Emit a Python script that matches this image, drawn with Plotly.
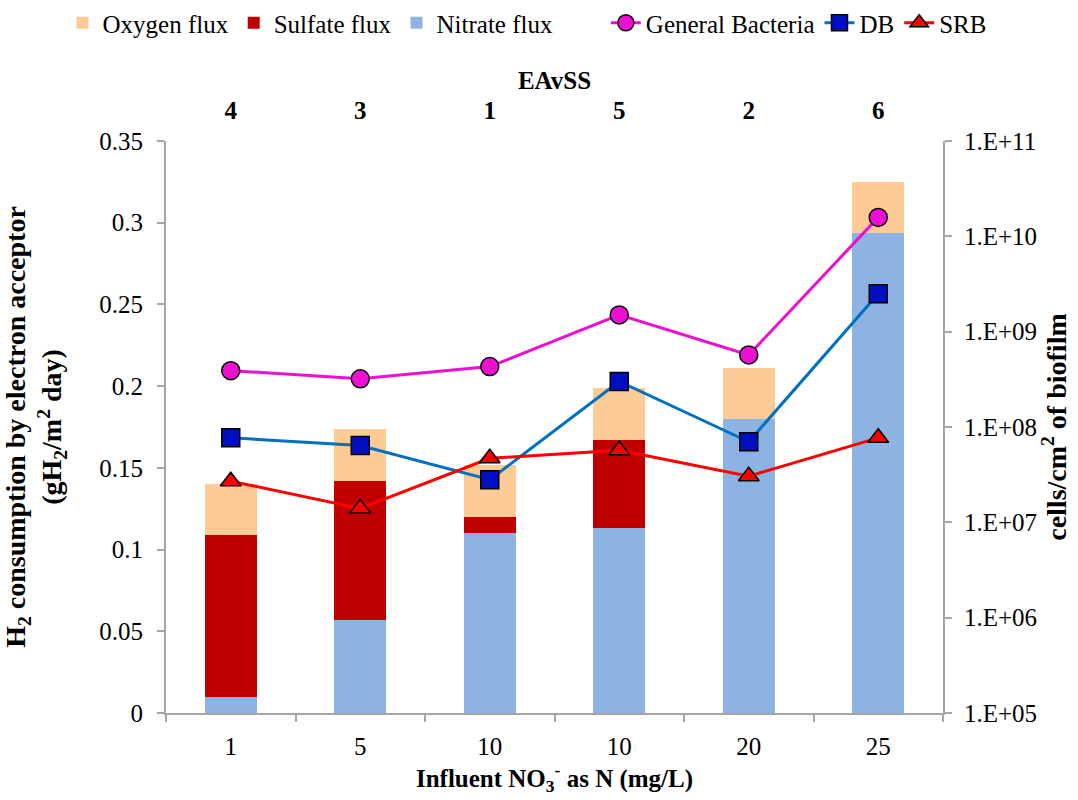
import plotly.graph_objects as go

# Influent nitrate loading (bottom axis) and EAvSS rank (top axis)
influent_labels = ["1", "5", "10", "10", "20", "25"]
eavss_labels = ["4", "3", "1", "5", "2", "6"]
positions = list(range(len(influent_labels)))

# H2 consumption by electron acceptor (gH2/m2 day)
nitrate_flux = [0.010, 0.057, 0.110, 0.113, 0.180, 0.294]
sulfate_flux = [0.099, 0.085, 0.010, 0.054, 0.000, 0.000]
oxygen_flux = [0.031, 0.032, 0.032, 0.032, 0.031, 0.031]

# Cell densities (cells/cm2 of biofilm)
general_bacteria = [3.9e8, 3.2e8, 4.3e8, 1.5e9, 5.7e8, 1.58e10]
db_cells = [7.7e7, 6.4e7, 2.8e7, 3.0e8, 7.0e7, 2.5e9]
srb_cells = [2.7e7, 1.4e7, 4.7e7, 5.7e7, 3.05e7, 7.7e7]

right_tickvals = [1e5, 1e6, 1e7, 1e8, 1e9, 1e10, 1e11]
right_ticktext = ["1.E+05", "1.E+06", "1.E+07", "1.E+08", "1.E+09", "1.E+10", "1.E+11"]
left_tickvals = [0, 0.05, 0.1, 0.15, 0.2, 0.25, 0.3, 0.35]
left_ticktext = ["0", "0.05", "0.1", "0.15", "0.2", "0.25", "0.3", "0.35"]

FONT = "Times New Roman, Liberation Serif, serif"
AXIS_GRAY = "#A6A6A6"
TICK_SIZE = 25
XTITLE_SIZE = 25
YTITLE_SIZE = 28
LEGEND_SIZE = 25

fig = go.Figure()

fig.add_trace(go.Bar(x=positions, y=nitrate_flux, name="Nitrate flux",
                     marker=dict(color="#8DB3E2", line=dict(width=0)),
                     width=0.4, legendrank=3))
fig.add_trace(go.Bar(x=positions, y=sulfate_flux, name="Sulfate flux",
                     marker=dict(color="#C00000", line=dict(width=0)),
                     width=0.4, legendrank=2))
fig.add_trace(go.Bar(x=positions, y=oxygen_flux, name="Oxygen flux",
                     marker=dict(color="#FCCB96", line=dict(width=0)),
                     width=0.4, legendrank=1))

fig.add_trace(go.Scatter(x=positions, y=general_bacteria, name="General Bacteria",
                         mode="lines+markers", xaxis="x2", yaxis="y2",
                         legend="legend2",
                         line=dict(color="#EE10D0", width=3),
                         marker=dict(symbol="circle", size=18, color="#EE10D0",
                                     line=dict(color="black", width=1.5)),
                         legendrank=4))
fig.add_trace(go.Scatter(x=positions, y=db_cells, name="DB",
                         mode="lines+markers", xaxis="x2", yaxis="y2",
                         legend="legend2",
                         line=dict(color="#0070C0", width=3),
                         marker=dict(symbol="square", size=18, color="#0010C0",
                                     line=dict(color="black", width=1.5)),
                         legendrank=5))
fig.add_trace(go.Scatter(x=positions, y=srb_cells, name="SRB",
                         mode="lines+markers", xaxis="x2", yaxis="y2",
                         legend="legend2",
                         line=dict(color="#FF0000", width=3),
                         marker=dict(symbol="triangle-up", size=18, color="#FF0000",
                                     line=dict(color="black", width=1.5)),
                         legendrank=6))

legend_common = dict(orientation="h", xref="container", yref="container",
                     yanchor="top", xanchor="left",
                     font=dict(family=FONT, size=LEGEND_SIZE), itemwidth=30,
                     traceorder="normal", tracegroupgap=0,
                     bgcolor="rgba(0,0,0,0)")

fig.update_layout(
    width=1078, height=800,
    margin=dict(l=166, r=135, t=141, b=87, autoexpand=False),
    paper_bgcolor="white", plot_bgcolor="white",
    barmode="stack",
    font=dict(family=FONT, size=TICK_SIZE, color="black"),
    legend=dict(x=0.058, y=1.0, **legend_common),
    legend2=dict(x=0.562, y=1.0, **legend_common),
    xaxis=dict(range=[-0.5, 5.5], tickvals=positions, ticktext=influent_labels,
               ticks="", showline=True, linecolor=AXIS_GRAY, linewidth=2,
               showgrid=False, zeroline=False, ticklabelstandoff=10,
               automargin=False,
               minor=dict(tickvals=[p - 0.5 for p in positions] + [5.5],
                          ticks="outside", ticklen=7, tickcolor=AXIS_GRAY,
                          tickwidth=1.5, showgrid=False),
               title=dict(text="<b>Influent NO<sub>3</sub><sup>-</sup> as N (mg/L)</b>",
                          font=dict(size=XTITLE_SIZE), standoff=2)),
    xaxis2=dict(range=[-0.5, 5.5], overlaying="x", side="top", anchor="y",
                tickvals=positions, ticktext=[f"<b>{t}</b>" for t in eavss_labels],
                ticks="", showline=False, showgrid=False, zeroline=False,
                automargin=False, ticklabelstandoff=16,
                title=dict(text="<b>EAvSS</b>", font=dict(size=XTITLE_SIZE), standoff=0)),
    yaxis=dict(range=[0, 0.35], tickvals=left_tickvals, ticktext=left_ticktext,
               ticks="outside", ticklen=7, tickcolor=AXIS_GRAY, tickwidth=1.5,
               showline=True, linecolor=AXIS_GRAY, linewidth=2,
               showgrid=False, zeroline=False, automargin=False,
               ticklabelstandoff=9,
               title=dict(text="<b>H<sub>2</sub> consumption by electron acceptor<br>"
                               "(gH<sub>2</sub>/m<sup>2</sup> day)</b>",
                          font=dict(size=YTITLE_SIZE), standoff=32)),
    yaxis2=dict(type="log", range=[5, 11], overlaying="y", side="right",
                tickvals=right_tickvals, ticktext=right_ticktext,
                ticks="outside", ticklen=7, tickcolor=AXIS_GRAY, tickwidth=1.5,
                showline=True, linecolor=AXIS_GRAY, linewidth=2,
                showgrid=False, zeroline=False, automargin=False,
                ticklabelstandoff=7,
                title=dict(text="<b>cells/cm<sup>2</sup> of biofilm</b>",
                           font=dict(size=YTITLE_SIZE), standoff=9)),
)

fig.write_html("out.html")
